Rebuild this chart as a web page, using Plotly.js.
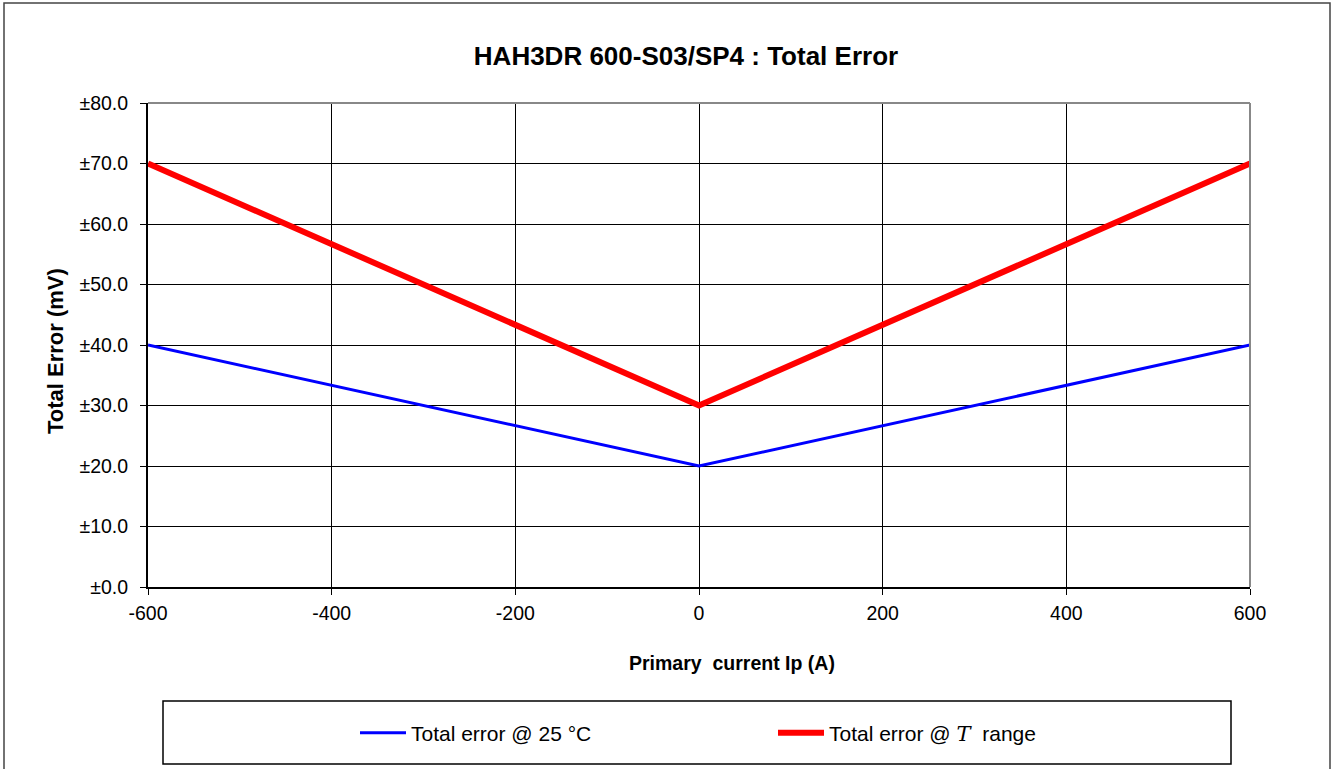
<!DOCTYPE html>
<html>
<head>
<meta charset="utf-8">
<script src="https://cdn.plot.ly/plotly-3.0.1.min.js"></script>
<style>html,body{margin:0;padding:0;background:#fff;}#chart{width:1333px;height:769px;}</style>
</head>
<body>
<div id="chart"></div>
<script>
const current = [-600, 0, 600];
const err25 = [40, 20, 40];
const errRange = [70, 30, 70];
const yTickVals = [0, 10, 20, 30, 40, 50, 60, 70, 80];
const yTickText = ['±0.0', '±10.0', '±20.0', '±30.0', '±40.0', '±50.0', '±60.0', '±70.0', '±80.0'];
const xTickVals = [-600, -400, -200, 0, 200, 400, 600];
const xTickText = ['-600', '-400', '-200', '0', '200', '400', '600'];

const W = 1333, H = 769, L = 148, R = 83, T = 103, B = 182;
const pw = W - L - R, ph = H - T - B;
const px = v => (v - L) / pw;
const py = v => (H - B - v) / ph;
const FONT = 'Liberation Sans, Arial, sans-serif';

const traces = [
  {x: current, y: err25, type: 'scatter', mode: 'lines', name: 'Total error @ 25 °C',
   line: {color: '#0000ff', width: 3}},
  {x: current, y: errRange, type: 'scatter', mode: 'lines',
   name: 'Total error @ <span style="font-family:\'DejaVu Serif\';font-style:italic">T</span>  range',
   line: {color: '#ff0000', width: 6}}
];

const layout = {
  width: W, height: H,
  margin: {l: L, r: R, t: T, b: B},
  paper_bgcolor: '#fff', plot_bgcolor: '#fff',
  font: {family: FONT, color: '#000', size: 19},
  title: {text: '<b>HAH3DR 600-S03/SP4 : Total Error</b>', x: 686 / W, xanchor: 'center',
          y: 1 - 56 / H, yanchor: 'middle', font: {size: 26, family: FONT}},
  xaxis: {range: [-600, 600], tickvals: xTickVals, ticktext: xTickText, showgrid: true, gridcolor: '#000', gridwidth: 1,
          zeroline: false, showline: true, linecolor: '#000', linewidth: 2,
          ticks: 'outside', ticklen: 6, tickcolor: '#000', tickfont: {size: 19.5}, ticklabelstandoff: 2},
  yaxis: {range: [0, 80], tickvals: yTickVals, ticktext: yTickText, showgrid: true, gridcolor: '#000', gridwidth: 1,
          zeroline: false, showline: true, linecolor: '#000', linewidth: 2,
          ticks: 'outside', ticklen: 6, tickcolor: '#000', tickfont: {size: 19.5}, ticklabelstandoff: 8},
  annotations: [
    {text: '<b>Primary  current Ip (A)</b>', xref: 'paper', yref: 'paper', x: px(732), y: py(663),
     xanchor: 'center', yanchor: 'middle', showarrow: false, font: {size: 19.5}},
    {text: '<b>Total Error (mV)</b>', xref: 'paper', yref: 'paper', x: px(55), y: py(351),
     xanchor: 'center', yanchor: 'middle', showarrow: false, textangle: -90, font: {size: 22}}
  ],
  showlegend: true,
  legend: {orientation: 'h', x: px(355), xanchor: 'left', y: py(733), yanchor: 'middle',
           font: {size: 21}, itemwidth: 46, entrywidth: 357, entrywidthmode: 'pixels',
           bgcolor: 'rgba(0,0,0,0)', borderwidth: 0},
  shapes: [
    {type: 'line', xref: 'paper', yref: 'paper', x0: 0, x1: 1, y0: 1, y1: 1, line: {color: '#888', width: 2}},
    {type: 'line', xref: 'paper', yref: 'paper', x0: 1, x1: 1, y0: 0, y1: 1, line: {color: '#888', width: 2}},
    {type: 'rect', xref: 'paper', yref: 'paper', x0: px(163), x1: px(1231), y0: py(764), y1: py(701),
     line: {color: '#000', width: 1.5}},
    {type: 'rect', xref: 'paper', yref: 'paper', x0: px(4), x1: px(1330), y0: py(775), y1: py(3),
     line: {color: '#444', width: 1.5}}
  ]
};

Plotly.newPlot('chart', traces, layout, {displayModeBar: false, staticPlot: true});
</script>
</body>
</html>
